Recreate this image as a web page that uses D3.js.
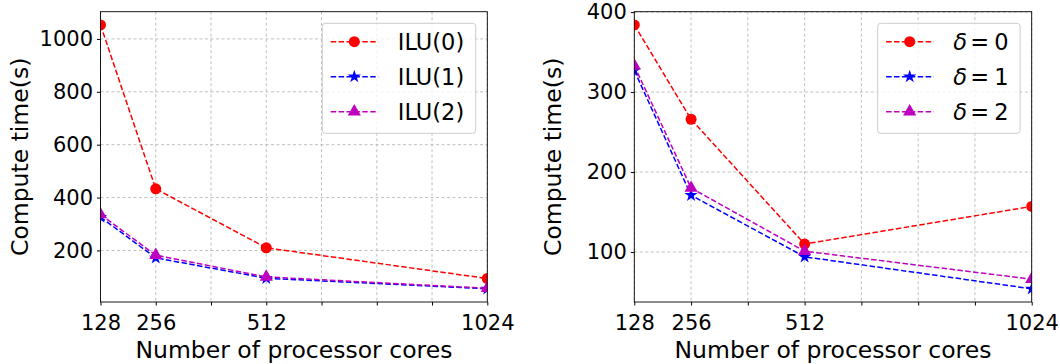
<!DOCTYPE html>
<html lang="en">
<head>
<meta charset="UTF-8">
<title>Compute time vs cores</title>
<script src="https://d3js.org/d3.v7.min.js"></script>
<style>
  body { margin: 0; background: #fff; }
  svg { display: block; font-family: "DejaVu Sans", sans-serif; }
</style>
</head>
<body>
<div id="chart"></div>
<script>
// data
var cores = [128, 256, 512, 1024];
var xTicks = [128, 256, 384, 512, 640, 768, 896, 1024];
var xTickLabels = ["128", "256", "", "512", "", "", "", "1024"];

var iluNames = ["ILU(0)", "ILU(1)", "ILU(2)"];
var ilu0 = [1053, 433, 210, 94];
var ilu1 = [326, 172, 95, 55];
var ilu2 = [336, 182, 100, 57];
var leftYTicks = [200, 400, 600, 800, 1000];

var deltaNames = ["0", "1", "2"];
var delta0 = [384, 266, 110, 157];
var delta1 = [327, 171, 94, 54];
var delta2 = [333, 180, 101, 66];
var rightYTicks = [100, 200, 300, 400];

var colors = ["#ff0000", "#0000ff", "#bf00bf"];
var markers = [d3.symbolCircle, d3.symbolStar, d3.symbolTriangle];
var markerSizes = [95, 55, 75];
var FONT = "'DejaVu Sans', sans-serif";

var svg = d3.select("#chart").append("svg")
    .attr("width", 1060)
    .attr("height", 364);

function panel(id, x0, x1, yDomain, yTicks, series, names, mathLabels) {
  var top = 11.7, bottom = 302;
  var x = d3.scaleLinear().domain([128, 1024]).range([x0, x1]);
  var y = d3.scaleLinear().domain(yDomain).range([bottom, top]);

  svg.append("clipPath").attr("id", id)
    .append("rect").attr("x", x0).attr("y", top)
    .attr("width", x1 - x0).attr("height", bottom - top);

  var g = svg.append("g");

  // grid
  g.selectAll(".gx").data(xTicks).enter().append("line")
    .attr("x1", d => x(d)).attr("x2", d => x(d))
    .attr("y1", top).attr("y2", bottom)
    .attr("stroke", "#b0b0b0").attr("stroke-width", 0.8)
    .attr("stroke-dasharray", "3,2.5");
  g.selectAll(".gy").data(yTicks).enter().append("line")
    .attr("x1", x0).attr("x2", x1)
    .attr("y1", d => y(d)).attr("y2", d => y(d))
    .attr("stroke", "#b0b0b0").attr("stroke-width", 0.8)
    .attr("stroke-dasharray", "3,2.5");

  // lines and markers
  var plot = g.append("g").attr("clip-path", "url(#" + id + ")");
  var line = d3.line().x((d, i) => x(cores[i])).y(d => y(d));
  series.forEach(function(s, k) {
    plot.append("path").datum(s)
      .attr("d", line)
      .attr("fill", "none")
      .attr("stroke", colors[k])
      .attr("stroke-width", 1.5)
      .attr("stroke-dasharray", "5.5,2.4");
    plot.selectAll(".m" + k).data(s).enter().append("path")
      .attr("d", d3.symbol().type(markers[k]).size(markerSizes[k]))
      .attr("transform", (d, i) => "translate(" + x(cores[i]) + "," + y(d) + ")")
      .attr("fill", colors[k]);
  });

  // axes
  var xAxis = d3.axisBottom(x).tickValues(xTicks)
    .tickFormat((d, i) => xTickLabels[i]).tickSize(3.5).tickPadding(4);
  var gx = g.append("g").attr("transform", "translate(0," + bottom + ")").call(xAxis)
    .attr("font-family", FONT).attr("font-size", 21);
  gx.select(".domain").remove();
  gx.selectAll("text").style("font-family", FONT).style("font-size", "21px")
    .attr("fill", "#000").attr("dy", "0.98em");

  var yAxis = d3.axisLeft(y).tickValues(yTicks).tickFormat(d3.format("d"))
    .tickSize(3.5).tickPadding(4);
  var gy = g.append("g").attr("transform", "translate(" + x0 + ",0)").call(yAxis)
    .attr("font-family", FONT).attr("font-size", 21);
  gy.select(".domain").remove();
  gy.selectAll("text").style("font-family", FONT).style("font-size", "21px").attr("fill", "#000");

  // frame
  g.append("rect").attr("x", x0).attr("y", top)
    .attr("width", x1 - x0).attr("height", bottom - top)
    .attr("fill", "none").attr("stroke", "#000").attr("stroke-width", 0.9);

  // labels
  g.append("text")
    .attr("x", (x0 + x1) / 2).attr("y", 357.5)
    .attr("text-anchor", "middle").style("font-size", "23.5px")
    .text("Number of processor cores");
  g.append("text")
    .attr("transform", "translate(" + (x0 - 73) + "," + ((top + bottom) / 2) + ") rotate(-90)")
    .attr("text-anchor", "middle").style("font-size", "23.5px")
    .text("Compute time(s)");

  // legend
  var lw = mathLabels ? 142.4 : 153.4;
  var lx = x1 - 11.6 - lw, ly = 23.3;
  var leg = g.append("g");
  leg.append("rect").attr("x", lx).attr("y", ly)
    .attr("width", lw).attr("height", 110).attr("rx", 3)
    .attr("fill", "#fff").attr("fill-opacity", 0.8)
    .attr("stroke", "#cccccc").attr("stroke-width", 1);
  names.forEach(function(n, k) {
    var ry = ly + 18.4 + k * 35;
    leg.append("line")
      .attr("x1", lx + 8.4).attr("x2", lx + 56)
      .attr("y1", ry).attr("y2", ry)
      .attr("stroke", colors[k]).attr("stroke-width", 1.5)
      .attr("stroke-dasharray", "5.5,2.4");
    leg.append("path")
      .attr("d", d3.symbol().type(markers[k]).size(markerSizes[k]))
      .attr("transform", "translate(" + (lx + 32) + "," + ry + ")")
      .attr("fill", colors[k]);
    var t = leg.append("text")
      .attr("x", lx + 75.5).attr("y", ry).attr("dy", "0.36em")
      .style("font-size", "22.5px");
    if (mathLabels) {
      t.append("tspan").style("font-style", "italic").text("δ");
      t.append("tspan").attr("x", lx + 92.5).text("=");
      t.append("tspan").attr("x", lx + 116.5).text(n);
    } else {
      t.text(n);
    }
  });
}

panel("clipL", 100.5, 487.3, [5.1, 1102.9], leftYTicks, [ilu0, ilu1, ilu2], iluNames, false);
panel("clipR", 634.3, 1031.7, [37.5, 400.5], rightYTicks, [delta0, delta1, delta2], deltaNames, true);
</script>
</body>
</html>
